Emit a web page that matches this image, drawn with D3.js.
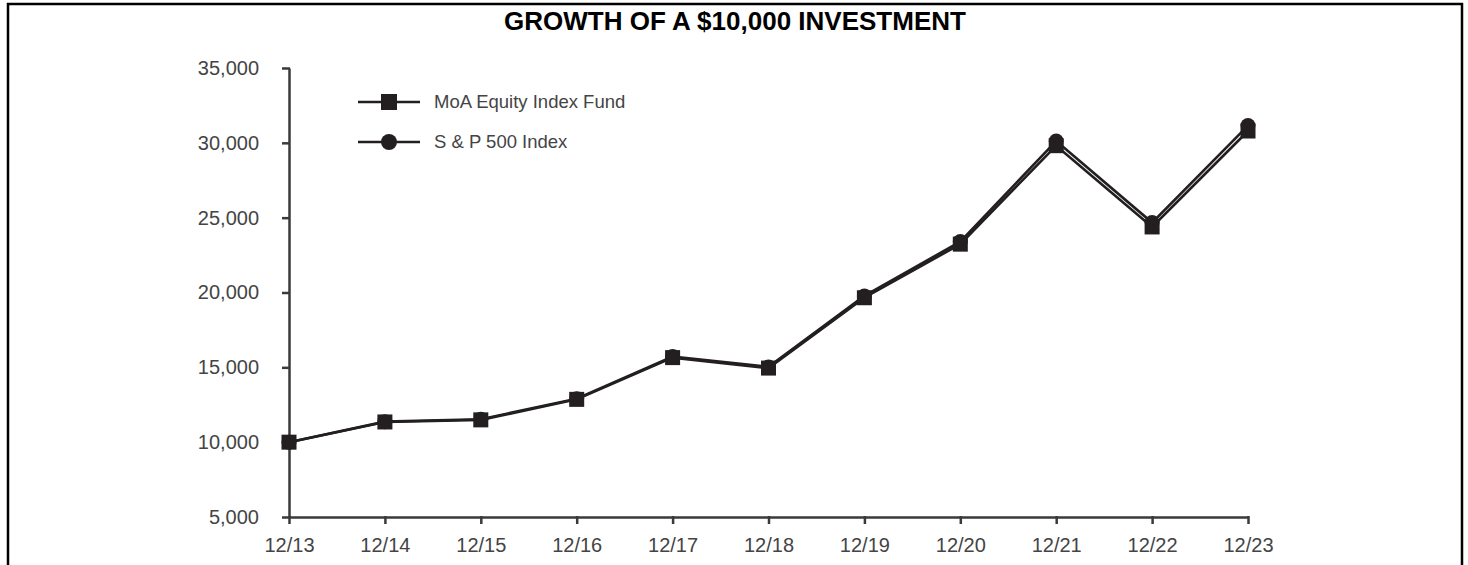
<!DOCTYPE html>
<html>
  <head>
    <meta charset="utf-8">
    <title>Growth of a $10,000 investment</title>
    <script src="https://d3js.org/d3.v7.min.js"></script>
    <style>
      body { margin: 0; background: #fff; }
      text { font-family: "Liberation Sans", Arial, sans-serif; }
    </style>
  </head>
  <body>
    <div id="chart"></div>
  </body>
  <script>
  var periods  = ["12/13", "12/14", "12/15", "12/16", "12/17", "12/18", "12/19", "12/20", "12/21", "12/22", "12/23"];
  var moaFund  = [10000, 11350, 11490, 12860, 15650, 14950, 19650, 23230, 29810, 24380, 30790];
  var sp500    = [10000, 11370, 11530, 12900, 15720, 15030, 19770, 23400, 30120, 24670, 31150];
  var yTicks   = [5000, 10000, 15000, 20000, 25000, 30000, 35000];
  var seriesNames = ["MoA Equity Index Fund", "S & P 500 Index"];

  var W = 1468, H = 565;
  var svg = d3.select('#chart')
      .append("svg")
      .attr("width", W)
      .attr("height", H);

  // outer frame (bottom edge runs off the picture)
  svg.append("path")
      .attr("d", "M8,566 L8,4 L1462,4 L1462,566")
      .attr("fill", "none")
      .attr("stroke", "#000")
      .attr("stroke-width", 2.5);

  svg.append("text")
      .attr("x", 735)
      .attr("y", 30)
      .attr("text-anchor", "middle")
      .attr("font-size", "26px")
      .attr("font-weight", "bold")
      .attr("fill", "#000")
      .text("GROWTH OF A $10,000 INVESTMENT");

  var x = d3.scalePoint().domain(periods).range([289, 1248]);
  var y = d3.scaleLinear().domain([5000, 35000]).range([517, 68]);

  var axisColor = "#3a3a3a";

  var yAxis = svg.append("g")
      .attr("transform", "translate(289,0)")
      .call(d3.axisLeft(y).tickValues(yTicks).tickSize(7).tickSizeOuter(0).tickPadding(23)
        .tickFormat(d3.format(",")));
  var xAxis = svg.append("g")
      .attr("transform", "translate(0,517)")
      .call(d3.axisBottom(x).tickSize(7).tickSizeOuter(0).tickPadding(14));

  [yAxis, xAxis].forEach(g => {
    g.select(".domain").attr("stroke", axisColor).attr("stroke-width", 2.5);
    g.selectAll(".tick line").attr("stroke", axisColor).attr("stroke-width", 2.5);
    g.selectAll(".tick text")
      .attr("fill", "#444")
      .attr("font-size", "20px")
      .attr("font-family", "'Liberation Sans', Arial, sans-serif");
  });
  xAxis.selectAll(".tick line").attr("y1", -1);
  yAxis.selectAll(".tick line").attr("x1", 1);

  var line = d3.line()
      .x((d, i) => x(periods[i]))
      .y(d => y(d));

  var ink = "#231f20";

  // S&P 500 (circles), drawn first
  svg.append("path")
      .datum(sp500)
      .attr("d", line)
      .attr("fill", "none")
      .attr("stroke", ink)
      .attr("stroke-width", 2.6);
  svg.selectAll(".sp")
      .data(sp500)
      .enter()
      .append("circle")
      .attr("class", "sp")
      .attr("cx", (d, i) => x(periods[i]))
      .attr("cy", d => y(d))
      .attr("r", 7.5)
      .attr("fill", ink);

  // MoA fund (squares)
  svg.append("path")
      .datum(moaFund)
      .attr("d", line)
      .attr("fill", "none")
      .attr("stroke", ink)
      .attr("stroke-width", 2.6);
  svg.selectAll(".moa")
      .data(moaFund)
      .enter()
      .append("rect")
      .attr("class", "moa")
      .attr("x", (d, i) => x(periods[i]) - 7.5)
      .attr("y", d => y(d) - 7.5)
      .attr("width", 15)
      .attr("height", 15)
      .attr("fill", ink);

  // legend
  var legend = svg.append("g");
  seriesNames.forEach((name, i) => {
    var ly = 102 + i * 40;
    legend.append("line")
        .attr("x1", 358).attr("x2", 420)
        .attr("y1", ly).attr("y2", ly)
        .attr("stroke", ink)
        .attr("stroke-width", 2.6);
    if (i === 0) {
      legend.append("rect")
          .attr("x", 389 - 8).attr("y", ly - 8)
          .attr("width", 16).attr("height", 16)
          .attr("fill", ink);
    } else {
      legend.append("circle")
          .attr("cx", 389).attr("cy", ly)
          .attr("r", 8)
          .attr("fill", ink);
    }
    legend.append("text")
        .attr("x", 434)
        .attr("y", ly + 6)
        .attr("font-size", "18.5px")
        .attr("fill", "#444")
        .text(name);
  });
  </script>
</html>
